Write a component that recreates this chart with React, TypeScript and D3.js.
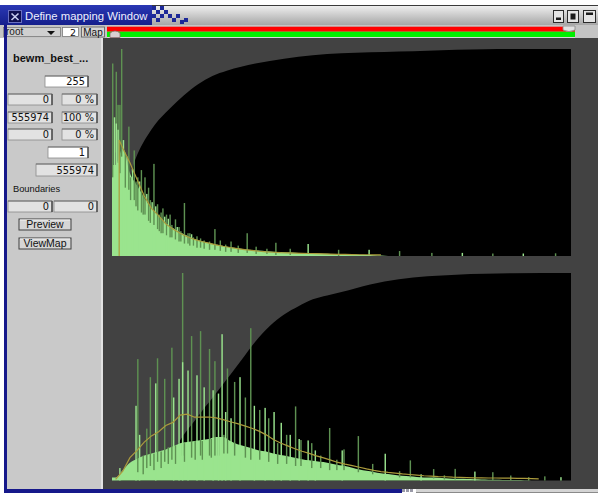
import React from 'react';
import * as d3 from 'd3';

// Histogram levels (0..255) and the group size used by the base-fill and smooth arrays
const LEVELS = 256;
const GROUP = 4;

// ---------- upper histogram (values in % of plot height) ----------
const topFill = [
  44, 52, 40, 34, 28, 23, 19.5, 16, 13.5, 11.5, 9.8, 8.2, 7.2, 6.3, 5.5, 4.8,
  4.2, 3.7, 3.3, 2.9, 2.6, 2.3, 2.1, 1.9, 1.7, 1.6, 1.4, 1.3, 1.2, 1.1, 1.0, 0.9,
  0.8, 0.7, 0.6, 0.5, 0.4, 0.2, 0, 0, 0, 0, 0, 0, 0, 0, 0, 0,
  0, 0, 0, 0, 0, 0, 0, 0, 0, 0, 0, 0, 0, 0, 0, 0,
];
const topSmooth: (number | null)[] = [
  null, 52, 45, 37, 29, 23, 19.5, 15.5, 13, 11, 9.3, 8, 7, 6.2, 5.4, 4.7,
  4.1, 3.6, 3.1, 2.7, 2.3, 2.0, 1.8, 1.6, 1.5, 1.4, 1.3, 1.2, 1.1, 1.0, 0.9, 0.8,
  0.8, 0.7, 0.6, 0.6, 0.5, 0.5,
];
const topSmoothStart: [number, number] = [4, 56];
// [level, top, bottom]
const topDark: [number, number, number][] = [
  [0, 93, 38], [2, 89, 50], [3, 73, 45], [4, 73, 40], [5, 100, 48], [7, 50, 33],
  [9, 62.5, 32], [10, 38, 27], [12, 51, 27], [13, 36, 24], [14, 38, 22], [16, 41.5, 21],
  [17, 30, 20], [18, 38, 20], [20, 33, 17], [21, 27, 16], [23, 44.5, 15], [25, 25, 13],
  [26, 20, 12], [27, 21, 11], [28, 23, 11], [30, 20, 10], [32, 20, 9], [33, 15, 9],
  [35, 17.7, 8], [37, 14, 7], [38, 12, 7], [40, 25.6, 6], [42, 11, 6], [43, 11, 5],
  [45, 9, 5], [47, 9.5, 4], [49, 8.5, 4], [51, 7.5, 3.5], [54, 7, 3], [57, 13, 3],
  [60, 7.5, 2.5], [63, 5.5, 2], [66, 7, 2], [70, 5, 1.5], [75, 11, 1.5], [80, 4.5, 1],
  [86, 3.5, 1], [91, 6.4, 0.5], [99, 3.5, 0.5], [126, 3, 0], [160, 2.4, 0],
  [178, 1.5, 0], [212, 1.2, 0], [247, 1.3, 0],
];
// [level, top]
const topLight: [number, number][] = [
  [1, 67], [2, 64], [3, 61], [6, 56], [8, 48], [11, 42], [15, 36], [19, 30], [22, 26],
  [24, 24], [29, 19], [31, 18], [36, 14], [44, 10.5], [109, 5.8], [143, 3], [195, 1.5],
  [229, 1.2],
];
const topCdfLevels = [0, 2, 4, 8, 12, 16, 20, 24, 32, 40, 48, 56, 64, 80, 96, 112, 128, 144, 160, 176, 192, 208, 224, 256];
const topCdf = [0, 6, 14, 30, 44, 52.5, 58.5, 63.5, 71, 77.5, 83, 87, 89.5, 93, 95.3, 97, 97.9, 98.4, 98.8, 99.2, 99.6, 99.85, 100, 100];

// ---------- lower histogram ----------
const bottomFill = [
  1.5, 5, 8.5, 10.5, 12, 13, 14, 15, 16.5, 18, 18.5, 19, 19.5, 20, 21, 21,
  19, 17.5, 16.5, 15.5, 14.5, 14, 13, 12.3, 11.7, 11, 10.3, 9.7, 9.3, 8.9, 8.2, 7.5,
  7, 6.2, 5.3, 4.7, 4.1, 3.5, 3.1, 2.7, 2.3, 2.0, 1.7, 1.5, 1.4, 1.3, 1.1, 0.9,
  0.8, 0.7, 0.6, 0.5, 0.4, 0.35, 0.3, 0.25, 0.2, 0.1, 0.05, 0, 0, 0, 0, 0,
];
const bottomSmooth: (number | null)[] = [
  0.5, 4.5, 11, 14.5, 18.5, 21.5, 23.5, 26.5, 28, 31.5,
  32, 30.5, 30.5, 30.6, 30.2, 29.3, 28.3, 27.4, 26.3, 25.2,
  23.8, 22, 19.8, 18.1, 16.7, 15.3, 14.1, 13.1, 11.9, 10.9,
  9.8, 8.7, 7.9, 7.2, 6.4, 5.6, 4.9, 4.3, 3.9, 3.6,
  3.2, 2.9, 2.6, 2.3, 2.1, 1.9, 1.8, 1.6, 1.5, 1.4,
  1.3, 1.3, 1.2, 1.2, 1.1, 1.1, 1.0, 1.0, 0.9, 0.8,
];
const bottomDark: [number, number, number][] = [
  [14, 58.5, 4], [17, 12, 3], [19, 25, 6], [21, 49.8, 7], [23, 13, 5], [25, 58.9, 9],
  [27, 14, 6], [29, 49, 9], [31, 16, 8], [33, 64, 10], [35, 17, 8], [39, 100, 12],
  [40, 18, 9], [44, 69.6, 11], [46, 19, 10], [49, 72, 12], [50, 19, 10], [54, 63.4, 12],
  [55, 20, 11], [57, 57.5, 12], [59, 21, 12], [62, 22, 13], [64, 54, 13], [68, 47.5, 12],
  [74, 40, 11], [77, 73.4, 10], [82, 34, 10], [87, 30, 9], [92, 18, 8], [97, 22, 8],
  [102, 35.7, 7], [105, 19.5, 7], [111, 18, 6], [116, 12, 6], [121, 25.3, 5], [125, 10, 5],
  [129, 15, 5], [137, 21.4, 4], [145, 8, 3], [160, 4.5, 1.5], [166, 9.7, 1.5],
  [179, 5.5, 1], [185, 2.5, 0.5], [191, 5.6, 0.5], [212, 4, 0], [222, 2.4, 0],
  [232, 1.6, 0], [241, 2, 0],
];
const bottomLight: [number, number][] = [
  [4, 6], [13, 36], [15, 22], [24, 46.8], [34, 40], [37, 49], [39, 57], [42, 53],
  [47, 50.7], [51, 44.9], [56, 43.5], [59, 41.9], [61, 70.5], [63, 33], [66, 30],
  [71, 49.8], [79, 36], [85, 35], [90, 33], [94, 27.8], [99, 22], [104, 20], [109, 19.3],
  [113, 14.5], [128, 14.5], [152, 12.9], [172, 3], [202, 4.3], [250, 1.6],
];
const bottomCdfLevels = [0, 16, 24, 32, 40, 44, 48, 52, 56, 60, 64, 68, 72, 76, 80, 88, 96, 104, 112, 120, 128, 144, 160, 176, 192, 208, 224, 256];
const bottomCdf = [0, 1.5, 4, 11, 22, 26.5, 31, 35.5, 39.8, 44.2, 48.8, 53.3, 57.8, 62.5, 67, 74.5, 80, 84, 87.3, 89.2, 90.8, 94.5, 97, 98.4, 99.2, 99.6, 99.9, 100];

// ---------- panel texts ----------
const windowTitle = 'Define mapping Window';
const imageName = 'bewm_best_...';
const maxValue = '255';
const lowCount = ['0', '0 %'];
const midCount = ['555974', '100 %'];
const highCount = ['0', '0 %'];
const stepValue = '1';
const totalCount = '555974';
const boundaryLabel = 'Boundaries';
const boundaries = ['0', '0'];

const COL = {
  plotBg: '#424242',
  fill: '#9ae48e',
  dark: '#5e9152',
  smooth: '#ab9b3c',
  panel: '#c9c9c9',
  frameBlue: '#16188a',
};

const NUM_FONT = '"DejaVu Sans", sans-serif';
const UI_FONT = '"Liberation Sans", Arial, sans-serif';

type HistProps = {
  x: d3.ScaleLinear<number, number>;
  base: number;
  top: number;
  fill: number[];
  smooth: (number | null)[];
  smoothStart?: [number, number];
  dark: [number, number, number][];
  light: [number, number][];
  cdfLevels: number[];
  cdf: number[];
};

function Histogram({ x, base, top, fill, smooth, smoothStart, dark, light, cdfLevels, cdf }: HistProps) {
  const y = d3.scaleLinear().domain([0, 100]).range([base, top]);

  const cdfPath = d3
    .area<number>()
    .x((_, i) => x(cdfLevels[i]))
    .y0(base)
    .y1((d) => y(d))
    .curve(d3.curveMonotoneX)(cdf) as string;

  const fillPts: [number, number][] = [
    [0, fill[0]],
    ...fill.map((v, g) => [g * GROUP + GROUP / 2, v] as [number, number]),
    [LEVELS, fill[fill.length - 1]],
  ];
  const fillPath = d3
    .area<[number, number]>()
    .x((d) => x(d[0]))
    .y0(base)
    .y1((d) => y(d[1]))
    .curve(d3.curveMonotoneX)(fillPts) as string;

  const smoothPts: [number, number][] = [];
  if (smoothStart) {
    smoothPts.push([smoothStart[0], 0], [smoothStart[0], smoothStart[1]]);
  }
  smooth.forEach((v, g) => {
    if (v != null) smoothPts.push([g * GROUP + GROUP / 2, v]);
  });
  const smoothPath = d3
    .line<[number, number]>()
    .x((d) => x(d[0]))
    .y((d) => y(d[1]))(smoothPts) as string;

  const bw = (x(1) - x(0)) * 0.8;

  return (
    <g>
      <path d={cdfPath} fill="#000" />
      <path d={fillPath} fill={COL.fill} />
      {dark.map(([l, t, b], i) => (
        <rect key={'d' + i} x={x(l)} y={y(t)} width={bw} height={Math.max(0.8, y(b) - y(t))} fill={COL.dark} />
      ))}
      {light.map(([l, t], i) => (
        <rect key={'l' + i} x={x(l)} y={y(t)} width={bw} height={base - y(t)} fill={COL.fill} />
      ))}
      <path d={smoothPath} fill="none" stroke={COL.smooth} strokeWidth={1.2} />
    </g>
  );
}

function Field({ x, y, w, h, text, white }: { x: number; y: number; w: number; h: number; text: string; white?: boolean }) {
  return (
    <g>
      <rect x={x} y={y} width={w} height={h} fill={white ? '#ffffff' : '#e2e2e2'} stroke="#8a8a8a" strokeWidth={0.8} />
      <line x1={x + w} y1={y} x2={x + w} y2={y + h} stroke="#303030" strokeWidth={1.2} />
      <line x1={x} y1={y} x2={x + w} y2={y} stroke="#606060" strokeWidth={0.8} />
      <text x={x + w - 3} y={y + h - 2} textAnchor="end" fontFamily={NUM_FONT} fontSize={9.8} fill="#111">
        {text}
      </text>
    </g>
  );
}

function Button({ x, y, w, h, text }: { x: number; y: number; w: number; h: number; text: string }) {
  return (
    <g>
      <rect x={x} y={y} width={w} height={h} fill="#d6d6d6" stroke="#404040" strokeWidth={1} />
      <line x1={x + 1} y1={y + 1} x2={x + w - 1} y2={y + 1} stroke="#f4f4f4" strokeWidth={1} />
      <text x={x + w / 2} y={y + h - 2} textAnchor="middle" fontFamily={UI_FONT} fontSize={10.5} fill="#111">
        {text}
      </text>
    </g>
  );
}

// blue blocks of the title bar transition
const titleBlocks: [number, number][] = [
  [152, 6], [152, 14], [156, 10], [156, 18], [160, 6], [160, 14], [164, 10],
  [168, 14], [172, 18], [176, 14], [180, 20], [184, 18],
];

export default function App() {
  const x = d3.scaleLinear().domain([0, LEVELS]).range([112, 571]);

  return (
    <svg width={598} height={493} style={{ position: 'absolute', left: 0, top: 0, display: 'block' }}>
      <defs>
        <linearGradient id="titleGray" x1="0" y1="0" x2="0" y2="1">
          <stop offset="0" stopColor="#f2f2f2" />
          <stop offset="1" stopColor="#a6a6a6" />
        </linearGradient>
        <linearGradient id="titleBlue" x1="0" y1="0" x2="0" y2="1">
          <stop offset="0" stopColor="#2a38b4" />
          <stop offset="1" stopColor="#151f8c" />
        </linearGradient>
      </defs>
      <rect width={598} height={493} fill="#ffffff" />

      {/* title bar */}
      <rect x={150} y={5} width={448} height={20} fill="url(#titleGray)" />
      <line x1={150} y1={5.5} x2={598} y2={5.5} stroke="#3a3a3a" strokeWidth={1} />
      <rect x={0} y={5} width={152} height={20} fill="url(#titleBlue)" />
      {titleBlocks.map(([bx, by], i) => (
        <rect key={i} x={bx} y={by} width={4} height={4} fill="#1c2898" />
      ))}
      <rect x={8.5} y={10.5} width={13} height={12} fill="#0e0e50" stroke="#6a70c0" strokeWidth={1} />
      <path d="M11.5 13.5 L18.5 20 M18.5 13.5 L11.5 20" stroke="#c8ccf0" strokeWidth={1.6} />
      <text x={25} y={20} fontFamily={UI_FONT} fontSize={11.3} fill="#eef0ff">
        {windowTitle}
      </text>
      {/* window buttons */}
      <g>
        <rect x={553.5} y={10.5} width={10} height={12} fill="#e4e4e4" stroke="#2a2a2a" />
        <rect x={556} y={17.5} width={5} height={2.5} fill="#1a1a1a" />
        <rect x={567.5} y={10.5} width={11} height={12} fill="#e4e4e4" stroke="#2a2a2a" />
        <rect x={570.5} y={13.5} width={5} height={6} fill="#1a1a1a" />
        <rect x={583.5} y={10.5} width={12} height={12} fill="#e4e4e4" stroke="#2a2a2a" />
        <rect x={586} y={12.5} width={7} height={2.5} fill="#1a1a1a" />
      </g>

      {/* toolbar */}
      <rect x={0} y={25} width={598} height={13} fill="#c4c4c4" />
      <rect x={3.5} y={27.5} width={57} height={9} fill="#cfcfcf" stroke="#7a7a7a" strokeWidth={0.8} />
      <text x={6} y={35} fontFamily={UI_FONT} fontSize={10} fill="#222">root</text>
      <path d="M47 31 L55 31 L51 35 Z" fill="#111" />
      <rect x={62.5} y={27.5} width={16} height={9} fill="#ffffff" stroke="#7a7a7a" strokeWidth={0.8} />
      <text x={76} y={35.5} textAnchor="end" fontFamily={NUM_FONT} fontSize={9.5} fill="#111">2</text>
      <rect x={81.5} y={27} width={23} height={10} fill="#d6d6d6" stroke="#5a5a5a" strokeWidth={0.8} />
      <text x={93} y={35.5} textAnchor="middle" fontFamily={UI_FONT} fontSize={10} fill="#111">Map</text>
      <rect x={107} y={26.7} width={468} height={5} fill="#ff0000" />
      <rect x={107} y={31.7} width={468} height={5.4} fill="#00f000" />
      <rect x={107} y={37} width={468} height={1} fill="#d8d8d8" />
      {/* range handles */}
      <path d="M110 37.5 L110 33 Q115 29 120 33 L120 37.5 Z" fill="#d8d0d0" stroke="#8a6a6a" strokeWidth={0.8} />
      <path d="M563 26 L575 26 L575 30 Q569 33 563 30 Z" fill="#e2e2e2" stroke="#8a8a8a" strokeWidth={0.8} />

      {/* window frame */}
      <rect x={4} y={25} width={3} height={468} fill={COL.frameBlue} />

      {/* left panel */}
      <rect x={7} y={38} width={94} height={451} fill={COL.panel} />
      <rect x={101} y={38} width={2} height={451} fill="#e2e2e2" />
      <text x={13} y={62} fontFamily={UI_FONT} fontWeight="bold" fontSize={11} fill="#111">
        {imageName}
      </text>
      <Field x={45} y={76} w={43} h={11} text={maxValue} white />
      <Field x={8} y={94} w={44} h={11} text={lowCount[0]} />
      <Field x={62} y={94} w={35} h={11} text={lowCount[1]} />
      <Field x={8} y={112} w={44} h={11} text={midCount[0]} />
      <Field x={62} y={112} w={35} h={11} text={midCount[1]} />
      <Field x={8} y={129} w={44} h={11} text={highCount[0]} />
      <Field x={62} y={129} w={35} h={11} text={highCount[1]} />
      <Field x={48} y={147} w={40} h={11} text={stepValue} white />
      <Field x={36} y={164} w={61} h={12} text={totalCount} />
      <text x={13} y={192} fontFamily={UI_FONT} fontSize={9.3} fill="#111">
        {boundaryLabel}
      </text>
      <Field x={8} y={201} w={44} h={11} text={boundaries[0]} />
      <Field x={54} y={201} w={43} h={11} text={boundaries[1]} />
      <Button x={19} y={219} w={52} h={11} text="Preview" />
      <Button x={19} y={238} w={52} h={11} text="ViewMap" />

      {/* plot area */}
      <rect x={103} y={38} width={495} height={451} fill={COL.plotBg} />
      <Histogram
        x={x}
        base={256}
        top={49}
        fill={topFill}
        smooth={topSmooth}
        smoothStart={topSmoothStart}
        dark={topDark}
        light={topLight}
        cdfLevels={topCdfLevels}
        cdf={topCdf}
      />
      <Histogram
        x={x}
        base={480.5}
        top={273}
        fill={bottomFill}
        smooth={bottomSmooth}
        dark={bottomDark}
        light={bottomLight}
        cdfLevels={bottomCdfLevels}
        cdf={bottomCdf}
      />

      {/* bottom frame / scroll strip */}
      <rect x={4} y={489} width={398} height={4} fill={COL.frameBlue} />
      <rect x={402} y={489} width={3} height={3} fill="#9a9aa8" />
      <rect x={406} y={489} width={3} height={3} fill="#9a9aa8" />
      <rect x={410} y={489} width={3} height={3} fill="#9a9aa8" />
      <rect x={416} y={489} width={182} height={3} fill="#d4d4d4" />
      <line x1={416} y1={492.5} x2={598} y2={492.5} stroke="#8a8a8a" strokeWidth={1} />
    </svg>
  );
}
